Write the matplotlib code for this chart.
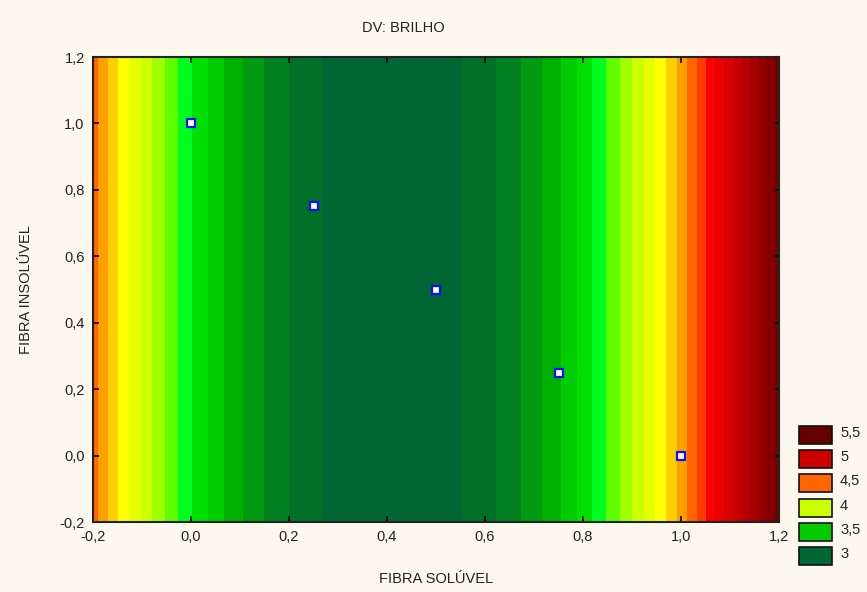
import numpy as np
import matplotlib.pyplot as plt
from matplotlib.patches import Rectangle

plt.rcParams['font.family'] = ['Liberation Sans', 'DejaVu Sans']

# design points (soluble / insoluble fibre fractions) and measured brightness
fibra_soluvel = [0.0, 0.25, 0.5, 0.75, 1.0]
fibra_insoluvel = [1.0, 0.75, 0.5, 0.25, 0.0]
brilho = [3.61, 3.02, 2.95, 3.39, 4.34]

# contour levels and band colours
levels = np.round(np.arange(2.9, 5.51, 0.1), 2)
band_colors = ['#006633', '#007028', '#008020', '#009a10', '#00b000', '#00cc00',
               '#00e000', '#00ff20', '#60ff00', '#a0ff00', '#ccff00', '#e6ff00',
               '#ffff00', '#ffd000', '#ffa000', '#ff6600', '#ff3c00', '#ff0000',
               '#e80000', '#d80000', '#c80000', '#b40000', '#a40000', '#940000',
               '#840000', '#760000']

legend_vals = [5.5, 5, 4.5, 4, 3.5, 3]
legend_colors = ['#660000', '#cc0000', '#ff6600', '#ccff00', '#00cc00', '#006633']

ticks = [-0.2, 0.0, 0.2, 0.4, 0.6, 0.8, 1.0, 1.2]
tick_labels = ['-0,2', '0,0', '0,2', '0,4', '0,6', '0,8', '1,0', '1,2']

bg = '#fdf8ee'
fig = plt.figure(figsize=(8.67, 5.92), dpi=100, facecolor=bg)
ax = fig.add_axes([0.1073, 0.1182, 0.7912, 0.7855])

# quadratic fit of brightness against soluble fibre
coef = np.polyfit(fibra_soluvel, brilho, 2)
gx = np.linspace(-0.2, 1.2, 600)
gy = np.linspace(-0.2, 1.2, 50)
X, Y = np.meshgrid(gx, gy)
Z = np.polyval(coef, X)

ax.contourf(X, Y, Z, levels=levels, colors=band_colors, antialiased=False)
ax.plot(fibra_soluvel, fibra_insoluvel, 's', ms=5.5, mfc='white', mec='#1010ff', mew=1.6)

ax.set_xlim(-0.2, 1.2)
ax.set_ylim(-0.2, 1.2)
ax.set_xticks(ticks)
ax.set_xticklabels(tick_labels)
ax.set_yticks(ticks)
ax.set_yticklabels(tick_labels)
ax.tick_params(direction='in', length=4, width=1.2, top=True, right=True,
               labelsize=10.5, colors='black', labelcolor='#222222', pad=6)
for s in ax.spines.values():
    s.set_linewidth(1.5)
    s.set_color('#222222')

ax.set_xlabel('FIBRA SOLÚVEL', fontsize=10.5, color='#222222', labelpad=20)
ax.set_ylabel('FIBRA INSOLÚVEL', fontsize=10.5, color='#222222', labelpad=19)
fig.text(403 / 867, 1 - 28 / 592, 'DV: BRILHO', ha='center', va='center',
         fontsize=10.5, color='#222222')

# legend boxes on the right
W, H = 867.0, 592.0
for i, (v, c) in enumerate(zip(legend_vals, legend_colors)):
    top = 426 + i * 24.2
    fig.add_artist(Rectangle((799 / W, 1 - (top + 18) / H), 33 / W, 18 / H,
                             transform=fig.transFigure, facecolor=c,
                             edgecolor='#111111', lw=1.2))
    fig.text(840 / W, 1 - (top + 7) / H, str(v).replace('.', ','),
             ha='left', va='center', fontsize=10.5, color='#222222')

fig.savefig('out.png', dpi=100, facecolor=bg)
